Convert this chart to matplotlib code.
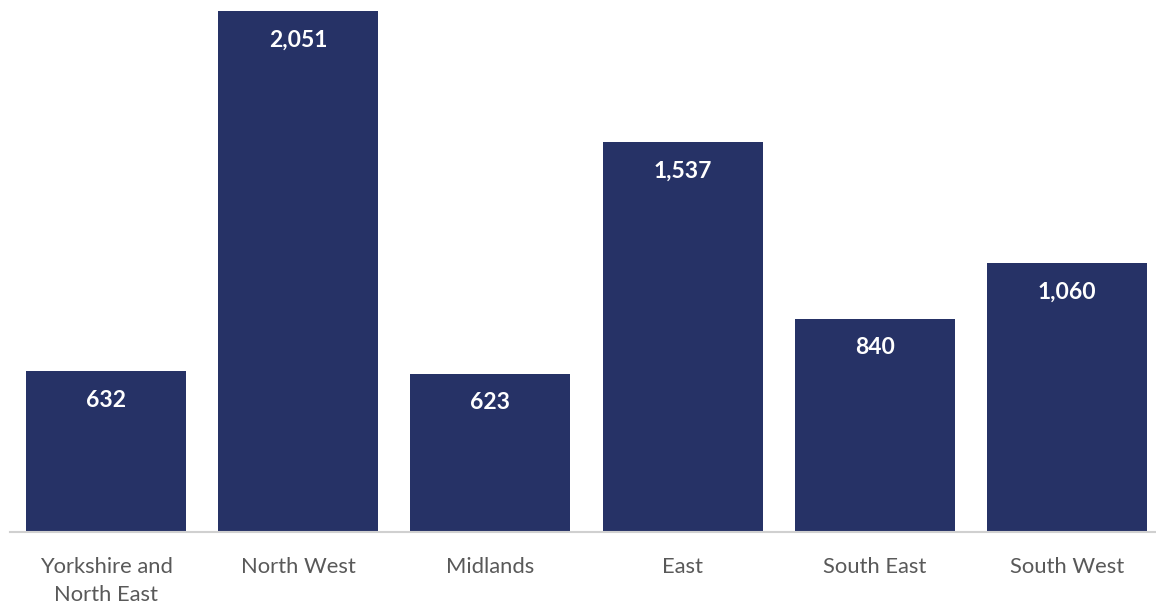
import matplotlib
matplotlib.use("Agg")
import matplotlib.pyplot as plt

regions = ["Yorkshire and\nNorth East", "North West", "Midlands", "East", "South East", "South West"]
values = [632, 2051, 623, 1537, 840, 1060]

plt.rcParams["font.family"] = ["Lato", "DejaVu Sans"]

fig = plt.figure(figsize=(11.56, 6.03), dpi=100)
ax = fig.add_axes([10 / 1156, 71 / 603, 1153 / 1156, 521 / 603])

x = list(range(len(regions)))
bars = ax.bar(x, values, width=0.832, color="#263266", zorder=2)

for xi, v in zip(x, values):
    ax.annotate(f"{v:,}", xy=(xi, v), xytext=(0, -21), textcoords="offset points",
                ha="center", va="center", color="white", fontsize=16.5, fontweight="bold")

ax.set_xlim(-0.5, len(regions) - 0.5)
ax.set_ylim(0, max(values))
ax.set_xticks(x)
ax.set_xticklabels(regions, fontsize=15.8, color="#595959", linespacing=1.5, va="top")
ax.tick_params(axis="x", length=0, pad=18)
ax.set_yticks([])
for side in ["top", "right", "left"]:
    ax.spines[side].set_visible(False)
ax.spines["bottom"].set_color("#D0D0D0")
ax.spines["bottom"].set_linewidth(1.5)

fig.savefig("out.png", dpi=100)
